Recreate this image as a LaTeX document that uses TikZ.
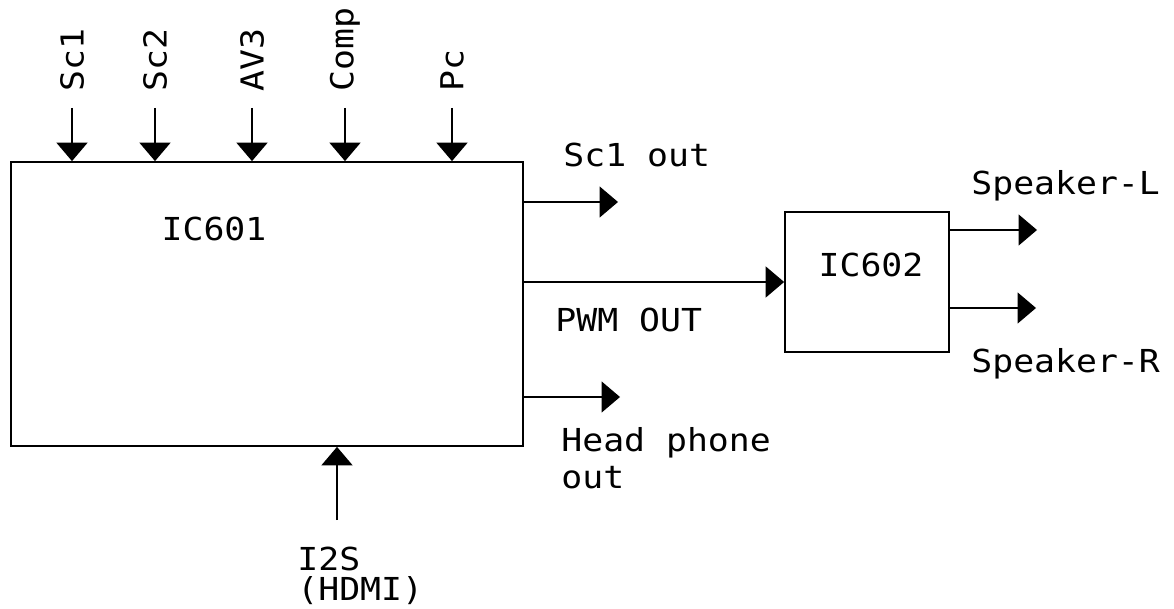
\documentclass[tikz,border=0pt]{standalone}
\usepackage{fontspec}
\usepackage{tikz}
\usetikzlibrary{arrows.meta, calc}
\newfontfamily\gulim{DejaVu Sans Mono}[FakeStretch=1.1]

\begin{document}
\begin{tikzpicture}[x=0.2mm, y=-0.2mm,
    chip/.style={rectangle, draw=black, line width=0.35mm, inner sep=0pt},
    lbl/.style={inner sep=0pt, font=\gulim\fontsize{18}{21}\selectfont, align=left},
    inlbl/.style={lbl, rotate=90, anchor=west, inner xsep=3.2mm},
    arrow/.style={-{Triangle[length=3.7mm, width=6.2mm]}, line width=0.35mm, black}
]
\useasboundingbox (0,0) rectangle (1174,609);

\node[chip, minimum width=102.4mm, minimum height=56.8mm] (ic601) at (267,304) {};
\node[lbl, anchor=base] (ic601t) at (214,241) {IC601};
\node[chip, minimum width=32.8mm, minimum height=28mm] (ic602) at (867,282) {};
\node[lbl, anchor=base] (ic602t) at (871,277) {IC602};

\node[inlbl] (sc1) at (72,108) {Sc1};
\node[inlbl] (sc2) at (155,108) {Sc2};
\node[inlbl] (av3) at (252,108) {AV3};
\node[inlbl] (comp) at (345,108) {Comp};
\node[inlbl] (pc) at (452,108) {Pc};

\node[lbl, anchor=base west] (sc1outt) at (563,167) {Sc1 out};
\node[lbl, anchor=base west] (pwmt) at (555,332) {PWM OUT};
\node[lbl, anchor=base west] (hpt) at (561,488) {Head phone\\out};
\node[lbl, anchor=base west] (spklt) at (971,195) {Speaker-L};
\node[lbl, anchor=base west] (spkrt) at (971,372) {Speaker-R};
\node[lbl, anchor=base west, font=\gulim\fontsize{18}{17}\selectfont] (i2st) at (297,600) {I2S\\(HDMI)};

\coordinate (sc1out) at (618,202);
\coordinate (hpout) at (620,397);
\coordinate (spkl) at (1037,230);
\coordinate (spkr) at (1036,308);
\coordinate (i2s) at (337,520);

\foreach \n in {sc1, sc2, av3, comp, pc}
    \draw[arrow] (\n.west) -- (\n.west |- ic601.north);

\draw[arrow] (ic601.east |- sc1out) -- (sc1out);
\draw[arrow] (ic601.east |- ic602.west) -- (ic602.west);
\draw[arrow] (ic601.east |- hpout) -- (hpout);
\draw[arrow] (ic602.east |- spkl) -- (spkl);
\draw[arrow] (ic602.east |- spkr) -- (spkr);
\draw[arrow] (i2s) -- (i2s |- ic601.south);
\end{tikzpicture}
\end{document}
